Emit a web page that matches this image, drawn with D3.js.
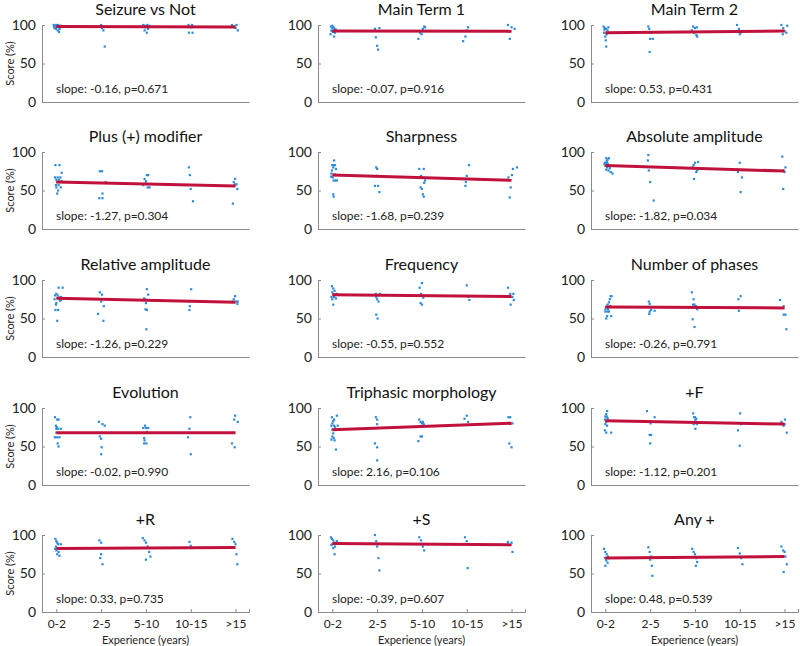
<!DOCTYPE html>
<html><head><meta charset="utf-8">
<script src="https://cdn.jsdelivr.net/npm/d3@7"></script>
<style>body{margin:0;background:#fff;}svg{display:block;font-family:Lato,"Open Sans",sans-serif;}</style>
</head><body><svg id="c" width="800" height="646"></svg>
<script>
const categories = ["0-2","2-5","5-10","10-15",">15"];
const categoryX = [1,2,3,4,5];
const yTicks = [0,50,100];
const titles = ["Seizure vs Not","Main Term 1","Main Term 2","Plus (+) modifier","Sharpness","Absolute amplitude","Relative amplitude","Frequency","Number of phases","Evolution","Triphasic morphology","+F","+R","+S","Any +"];
const slopes = [-0.16,-0.07,0.53,-1.27,-1.68,-1.82,-1.26,-0.55,-0.26,-0.02,2.16,-1.12,0.33,-0.39,0.48];
const pValues = ["0.671","0.916","0.431","0.304","0.239","0.034","0.229","0.552","0.791","0.990","0.106","0.201","0.735","0.607","0.539"];
const lineStart = [98,92.3,90,61,70,82.5,76.2,80.8,64.8,67.8,71.6,83.6,82.5,89,70];

const seizureVsNot = [[0.94,100],[0.97,99],[1.0,100],[1.02,98],[1.05,99],[1.08,97],[0.96,96],[1.03,93],[1.06,91],[0.99,95],[1.1,99],[1.04,100],[0.95,98],[1.07,95],[1.01,97],
[1.97,98],[2.02,96],[2.05,93],[2.0,100],[2.08,72],
[2.94,100],[2.97,99],[3.0,97],[3.03,100],[3.05,95],[2.97,93],[3.02,90],[3.06,98],[3.08,99],
[3.95,100],[4.03,100],[3.96,90],[4.04,90],[4.0,97],
[4.92,100],[4.97,98],[5.02,100],[5.05,93],[5.0,96]];
const mainTerm1 = [[0.97,98],[1.0,96],[1.03,97],[1.05,95],[0.98,93],[1.02,91],[1.06,90],[0.96,88],[1.04,85],[1.0,99],[1.08,94],[0.99,92],
[1.95,95],[2.05,96],[1.97,84],[2.0,73],[2.02,68],
[2.92,82],[2.96,90],[2.99,88],[3.02,95],[3.05,98],[3.07,97],[3.0,92],
[3.92,79],[3.97,85],[4.0,93],[4.03,97],
[4.92,100],[4.96,82],[5.0,97],[5.07,95],[4.94,91]];
const mainTerm2 = [[0.96,98],[0.99,96],[1.02,95],[1.05,93],[0.97,90],[1.03,88],[1.0,85],[1.01,80],[1.02,72],[1.07,97],[0.98,94],
[1.96,98],[1.98,95],[2.02,90],[2.0,82],[2.06,82],[1.99,65],
[2.93,93],[2.96,98],[3.0,96],[3.03,87],[3.05,85],[2.98,90],[3.04,97],
[3.94,100],[3.98,95],[4.02,90],[4.0,88],
[4.93,100],[4.97,96],[5.0,92],[5.04,90],[4.96,88],[5.06,99]];
const plusModifier = [[0.98,83],[1.07,83],[1.12,73],[0.97,67],[1.03,67],[1.09,67],[1.0,64],[1.06,64],[1.12,62],[1.02,61],[0.99,57],[1.05,57],[1.1,54],[1.0,54],[1.04,50],[1.02,46],
[1.97,75],[2.02,75],[2.1,61],[2.03,46],[1.96,40],[2.03,40],
[2.94,57],[2.97,65],[3.0,62],[3.02,70],[3.05,70],[3.04,54],[3.08,54],[2.99,59],
[3.96,80],[3.98,70],[4.0,52],[4.05,36],
[4.94,33],[4.96,61],[4.99,65],[5.02,58],[5.04,52],[4.98,58]];
const sharpness = [[0.98,72],[1.0,83],[1.02,80],[1.04,89],[1.03,83],[1.06,83],[0.99,76],[1.01,67],[1.05,71],[1.03,63],[1.07,63],[1.1,63],[1.02,45],[1.03,42],[1.08,78],[0.97,68],
[1.98,80],[2.0,78],[2.0,69],[1.95,56],[2.02,56],[2.05,48],
[2.94,78],[3.04,78],[2.98,69],[3.07,63],[3.05,60],[2.97,54],[3.0,52],[3.02,45],[3.04,42],
[3.97,56],[3.98,61],[4.0,69],[4.05,83],
[4.93,67],[4.96,41],[4.98,54],[5.01,70],[5.03,78],[5.12,80]];
const absoluteAmplitude = [[0.99,86],[1.02,92],[1.05,90],[1.08,92],[1.03,88],[1.06,84],[1.0,82],[1.04,80],[1.1,79],[1.02,77],[1.07,76],[1.12,74],[1.16,72],[0.98,84],[1.04,86],
[1.96,96],[1.95,89],[1.97,76],[2.0,61],[2.08,37],
[2.95,80],[2.97,83],[3.0,86],[3.03,74],[3.05,76],[2.98,65],[3.07,87],
[3.96,74],[4.0,86],[4.05,67],[4.02,48],
[4.95,94],[4.97,76],[5.02,80],[5.0,74],[4.97,52]];
const relativeAmplitude = [[0.97,80],[1.0,82],[1.03,80],[1.06,77],[1.1,74],[1.0,70],[0.99,68],[1.05,90],[1.14,90],[0.98,61],[1.04,61],[1.02,47],[1.08,73],[0.96,75],[1.1,78],
[1.97,84],[2.02,81],[2.0,72],[2.06,66],[1.93,56],[2.05,47],
[2.96,76],[2.98,75],[3.02,88],[3.05,81],[3.0,70],[2.99,62],[3.02,61],[3.01,36],
[3.97,72],[3.98,66],[3.97,61],[4.01,88],
[4.93,72],[4.96,75],[4.99,79],[5.02,72],[5.04,69],[5.05,72]];
const frequency = [[0.99,92],[1.02,89],[1.0,84],[1.03,81],[1.06,81],[1.1,82],[0.98,78],[1.04,78],[1.0,75],[1.02,68],[1.08,76],[1.05,86],
[1.97,82],[2.06,82],[1.98,78],[2.0,75],[2.03,72],[1.98,55],[2.01,50],
[2.95,90],[3.0,96],[2.98,82],[3.03,77],[2.97,70],[3.0,68],
[4.0,93],[4.03,78],[4.06,74],
[4.92,90],[4.97,82],[5.04,82],[5.02,78],[5.05,74],[4.98,68]];
const numberOfPhases = [[1.12,79],[1.14,79],[1.1,75],[1.08,71],[1.05,68],[1.02,65],[1.0,62],[1.0,59],[1.05,59],[1.08,59],[1.04,53],[1.13,53],[1.02,50],[1.06,62],[1.11,66],
[1.97,72],[1.99,69],[2.0,65],[2.02,61],[1.99,59],[1.98,56],[2.1,60],
[2.93,84],[2.97,75],[2.96,68],[2.99,68],[3.02,66],[3.05,62],[2.95,49],[2.99,39],
[3.97,75],[4.02,79],[3.98,60],
[4.9,74],[4.98,66],[4.98,55],[5.02,55],[5.04,36]];
const evolution = [[0.97,88],[1.02,85],[1.05,85],[0.99,77],[1.0,73],[1.04,73],[1.1,73],[1.0,68],[0.97,62],[1.02,62],[1.07,62],[1.03,54],[1.05,50],[1.01,75],
[1.95,82],[2.03,79],[2.08,77],[1.97,63],[2.0,60],[2.01,49],[2.0,40],
[2.94,74],[2.98,77],[3.0,74],[3.02,69],[3.05,74],[2.96,61],[2.97,58],[2.96,54],[3.01,54],
[3.97,73],[3.99,88],[3.94,62],[4.0,40],
[4.92,54],[4.97,85],[4.99,90],[5.05,82],[4.98,49]];
const triphasicMorphology = [[0.98,77],[1.0,80],[1.02,83],[1.04,77],[1.06,75],[1.1,90],[0.99,88],[1.0,72],[1.02,67],[1.0,63],[1.03,61],[0.98,59],[1.05,58],[1.08,46],[1.12,77],[1.04,85],
[1.97,88],[2.0,85],[2.0,79],[1.95,54],[2.0,49],[2.0,32],
[2.94,85],[2.97,82],[3.0,80],[3.02,82],[3.04,79],[2.97,63],[3.0,63],[2.92,57],
[3.95,86],[4.0,90],[4.03,82],
[4.93,88],[4.97,88],[5.02,80],[4.95,54],[5.0,49]];
const plusF = [[1.04,96],[1.02,92],[1.0,89],[1.03,89],[1.05,87],[0.99,85],[1.02,82],[1.0,79],[1.04,77],[0.99,71],[1.02,68],[1.13,68],[1.06,84],
[1.93,96],[2.01,80],[1.99,65],[2.02,65],[2.0,54],[2.1,88],
[2.96,93],[2.98,88],[3.0,88],[3.03,86],[3.01,84],[2.97,79],[3.04,79],[3.01,73],
[3.96,71],[4.01,93],[4.03,79],[4.0,51],
[4.93,82],[4.95,79],[4.98,77],[5.0,79],[5.01,85],[5.05,68]];
const plusR = [[0.98,95],[1.0,92],[1.02,90],[1.04,88],[0.99,85],[1.03,83],[1.0,80],[1.05,78],[1.02,75],[1.07,73],[1.1,88],[0.97,82],
[1.96,93],[2.0,90],[2.02,83],[2.0,75],[2.03,62],[1.98,70],
[2.93,96],[2.97,93],[3.0,90],[3.04,85],[3.07,78],[3.1,72],[3.0,68],
[3.97,91],[4.0,86],[4.03,83],
[4.93,95],[4.97,91],[5.0,88],[5.02,75],[5.04,62]];
const plusS = [[0.97,97],[0.99,95],[1.02,93],[1.04,90],[1.0,88],[1.06,85],[1.02,83],[1.05,75],[1.1,92],[0.98,87],
[1.95,100],[1.98,92],[2.0,85],[2.03,70],[2.05,54],
[2.94,97],[2.98,93],[3.0,88],[3.02,85],[3.05,80],
[3.96,97],[4.0,92],[4.03,88],[4.02,57],
[4.92,91],[4.97,88],[5.02,78],[5.0,90]];
const anyPlus = [[0.97,82],[1.0,78],[1.03,75],[1.06,72],[0.99,70],[1.02,67],[1.05,64],[1.0,60],[1.08,70],
[1.96,84],[1.99,78],[2.02,72],[2.0,68],[2.04,60],[2.05,47],
[2.94,82],[2.97,78],[3.0,75],[3.03,70],[3.05,65],[3.02,60],
[3.96,83],[4.0,76],[4.03,70],[4.06,62],
[4.93,85],[4.97,80],[5.0,78],[5.02,72],[5.05,62],[4.98,52]];

const panelPoints = [seizureVsNot,mainTerm1,mainTerm2,plusModifier,sharpness,absoluteAmplitude,relativeAmplitude,frequency,numberOfPhases,evolution,triphasicMorphology,plusF,plusR,plusS,anyPlus];

// layout
const colLeft = [42, 318, 591];
const rowTop = [25, 152, 280, 408, 535];
const pw = 207, ph = 77;
const axisColor = "#8a8a8a", textColor = "#222";

const svg = d3.select("#c");
const x = d3.scaleLinear().domain([0.68, 5.3]).range([0, pw]);
const y = d3.scaleLinear().domain([0, 100]).range([ph, 0]);

panelPoints.forEach((pts, i) => {
  const r = Math.floor(i / 3), c = i % 3;
  const g = svg.append("g").attr("transform", `translate(${colLeft[c]},${rowTop[r]})`);
  g.append("text").attr("x", pw / 2).attr("y", -10).attr("text-anchor", "middle")
    .attr("font-size", 16).attr("fill", "#111").text(titles[i]);
  const ya = g.append("g").call(d3.axisLeft(y).tickValues(yTicks).tickSize(-3).tickPadding(6).tickFormat(d3.format("d")));
  ya.select(".domain").attr("stroke", axisColor);
  ya.selectAll(".tick line").attr("stroke", axisColor);
  ya.selectAll("text").attr("font-size", 14).attr("fill", textColor).attr("font-family", "Lato,'Open Sans',sans-serif");
  const bottom = r === 4;
  const xa = g.append("g").attr("transform", `translate(0,${ph})`)
    .call(d3.axisBottom(x).tickValues(categoryX).tickSize(bottom ? -3 : 0).tickPadding(bottom ? 7 : 0)
      .tickFormat((d, k) => bottom ? categories[k] : ""));
  xa.select(".domain").attr("stroke", axisColor);
  xa.selectAll(".tick line").attr("stroke", axisColor);
  xa.selectAll("text").attr("font-size", 12).attr("fill", textColor).attr("font-family", "Lato,'Open Sans',sans-serif");
  g.append("g").selectAll("rect").data(pts).join("rect")
    .attr("x", d => x(d[0]) - 1.1).attr("y", d => y(d[1]) - 1.1)
    .attr("width", 2.2).attr("height", 2.2).attr("fill", "#2f8ad8");
  const lineData = [categoryX[0], categoryX[4]].map(v => [v, lineStart[i] + slopes[i] * (v - categoryX[0])]);
  g.append("path").datum(lineData)
    .attr("d", d3.line().x(d => x(d[0])).y(d => y(d[1])))
    .attr("stroke", "#c0123c").attr("stroke-width", 3).attr("fill", "none");
  g.append("text").attr("x", 14).attr("y", ph - 9).attr("font-size", 12).attr("fill", textColor)
    .text(`slope: ${slopes[i].toFixed(2)}, p=${pValues[i]}`);
  if (c === 0) {
    g.append("text").attr("transform", `translate(-28,${ph / 2}) rotate(-90)`)
      .attr("text-anchor", "middle").attr("font-size", 11).attr("fill", textColor).text("Score (%)");
  }
  if (bottom) {
    g.append("text").attr("x", pw / 2).attr("y", ph + 32).attr("text-anchor", "middle")
      .attr("font-size", 11).attr("fill", textColor).text("Experience (years)");
  }
});
</script></body></html>
